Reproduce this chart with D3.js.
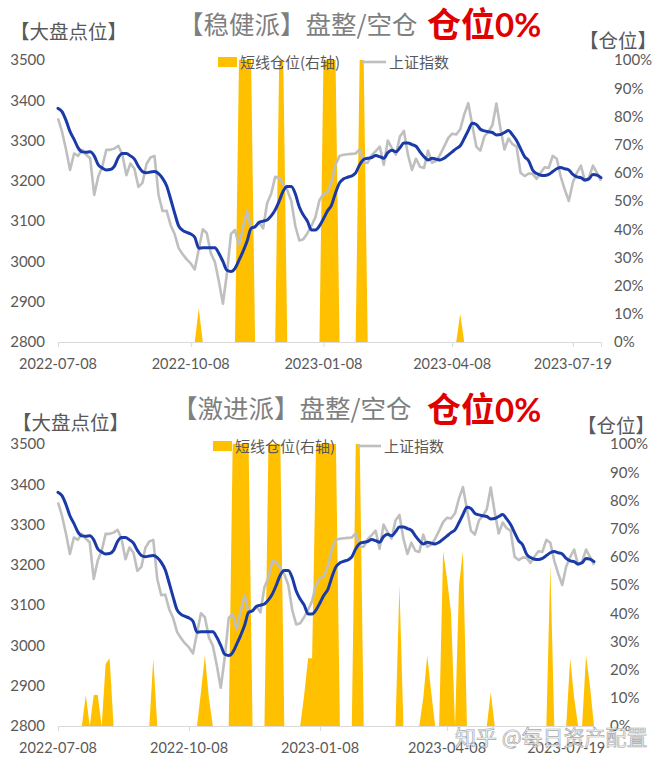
<!DOCTYPE html>
<html>
<head>
<meta charset="utf-8">
<script src="https://cdn.jsdelivr.net/npm/d3@7"></script>
<style>
  html, body { margin: 0; padding: 0; background: #ffffff; }
  svg { display: block; }
</style>
</head>
<body>
<svg id="chart" width="666" height="764"></svg>
<script>
// ---------------- DATA ----------------
const tickLabels = ["2022-07-08", "2022-10-08", "2023-01-08", "2023-04-08", "2023-07-19"];
const tickIndex = [0, 33, 66, 98, 128];
const leftTicks = [2800, 2900, 3000, 3100, 3200, 3300, 3400, 3500];
const rightTicks = [0, 10, 20, 30, 40, 50, 60, 70, 80, 90, 100];

// 上证指数 (gray)
const sseIndex = [
  3355,3322,3278,3227,3268,3262,3277,3265,3256,3165,
  3210,3235,3277,3277,3280,3287,3265,3214,3243,3230,
  3185,3195,3242,3258,3262,3165,3125,3126,3090,3068,
  3033,3018,3005,2995,2980,3030,3080,3070,3020,2999,
  2950,2895,2970,3068,3078,3040,3085,3125,3082,3086,
  3097,3082,3145,3168,3210,3207,3192,3177,3150,3088,
  3052,3055,3070,3088,3110,3152,3167,3172,3198,3240,
  3262,3265,3266,3267,3268,3278,3245,3245,3264,3274,
  3285,3240,3300,3281,3265,3310,3324,3265,3227,3255,
  3235,3232,3275,3245,3250,3265,3285,3306,3317,3315,
  3328,3365,3393,3338,3285,3275,3310,3322,3338,3392,
  3330,3278,3305,3291,3285,3220,3212,3218,3218,3205,
  3220,3234,3232,3262,3255,3210,3178,3150,3196,3220,
  3238,3200,3208,3238,3220,3200
];

// moving average (blue)
const maLine = [
  3380,3372,3350,3322,3303,3282,3272,3271,3272,3262,
  3240,3232,3227,3228,3236,3258,3268,3268,3262,3254,
  3236,3223,3220,3222,3223,3218,3206,3188,3155,3120,
  3088,3077,3072,3068,3060,3033,3034,3034,3034,3034,
  3020,3000,2978,2975,2983,3003,3025,3050,3082,3086,
  3097,3100,3103,3113,3128,3150,3175,3186,3186,3168,
  3135,3115,3100,3078,3078,3088,3106,3125,3140,3170,
  3195,3205,3209,3212,3220,3240,3253,3256,3258,3263,
  3260,3256,3270,3276,3272,3282,3294,3294,3290,3286,
  3272,3260,3252,3256,3254,3252,3256,3264,3272,3280,
  3287,3305,3325,3343,3340,3328,3324,3322,3320,3314,
  3315,3320,3325,3314,3300,3280,3260,3250,3227,3218,
  3214,3213,3216,3223,3230,3233,3230,3227,3216,3210,
  3208,3202,3205,3216,3214,3208
];

// 短线仓位 (%) - 稳健派
const posSteady = [
  0,0,0,0,0,0,0,0,0,0,
  0,0,0,0,0,0,0,0,0,0,
  0,0,0,0,0,0,0,0,0,0,
  0,0,0,0,0,12,0,0,0,0,
  0,0,0,0,0,100,100,100,100,0,
  0,0,0,0,0,100,100,0,0,0,
  0,0,0,0,0,0,100,100,100,100,
  0,0,0,0,0,100,100,0,0,0,
  0,0,0,0,0,0,0,0,0,0,
  0,0,0,0,0,0,0,0,0,0,
  10,0,0,0,0,0,0,0,0,0,
  0,0,0,0,0,0,0,0,0,0,
  0,0,0,0,0,0,0,0,0,0,
  0,0,0,0,0,0
];

// 短线仓位 (%) - 激进派
const posAggressive = [
  0,0,0,0,0,0,0,11,0,11,
  11,0,22,24,0,0,0,0,0,0,
  0,0,0,0,24,0,0,0,0,0,
  0,0,0,0,0,0,12,25,10,0,
  0,0,0,0,100,100,100,100,100,0,
  0,0,0,100,100,100,100,0,0,0,
  0,0,11,24,24,100,100,100,100,100,
  100,0,0,0,0,100,100,0,0,0,
  0,0,0,0,0,0,50,0,0,0,
  0,0,10,25,12,0,0,62,52,40,
  0,50,62,0,0,0,0,0,0,12,
  0,0,0,0,0,0,0,0,0,0,
  0,0,0,0,57,0,0,0,0,24,
  10,0,0,25,14,0
];

// ---------------- STYLE / LAYOUT ----------------
const CJK = "'Noto Sans CJK SC', 'Noto Sans', sans-serif";
const NUM = "Lato, 'Open Sans', sans-serif";
const GOLD = "#ffc000", GRAY = "#bfbfbf", BLUE = "#1a3aa8", TXT = "#595959";

const panels = [
  { title: "【稳健派】盘整/空仓", pos: posSteady,
    yTop: 60, yBot: 342, x0: 58, x1: 601,
    titleX: 178, titleBase: 34, redX: 427, redBase: 37,
    lblX: 10, lblBase: 38.5, rLblX: 579, rLblBase: 48,
    legX: 218, legY: 62, rTickX: 614 },
  { title: "【激进派】盘整/空仓", pos: posAggressive,
    yTop: 444, yBot: 726, x0: 58, x1: 594,
    titleX: 172, titleBase: 418, redX: 427, redBase: 422,
    lblX: 12, lblBase: 430, rLblX: 577, rLblBase: 433,
    legX: 213, legY: 446, rTickX: 610 }
];

const svg = d3.select("#chart");
svg.append("rect").attr("width", 666).attr("height", 764).attr("fill", "#fff");

panels.forEach(p => {
  const g = svg.append("g");
  const N = sseIndex.length;
  const x = d3.scaleLinear().domain([0, N - 1]).range([p.x0, p.x1]);
  const yL = d3.scaleLinear().domain([2800, 3500]).range([p.yBot, p.yTop]);
  const yR = d3.scaleLinear().domain([0, 100]).range([p.yBot, p.yTop]);

  // area (right axis)
  const area = d3.area().x((d, i) => x(i)).y0(yR(0)).y1(d => yR(d));
  g.append("path").datum(p.pos).attr("d", area).attr("fill", GOLD);

  // x axis
  const xAxis = d3.axisBottom(x).tickValues(tickIndex).tickSize(5).tickFormat("");
  const xg = g.append("g").attr("transform", `translate(0,${p.yBot})`).call(xAxis);
  xg.select(".domain").attr("stroke", "#d9d9d9").attr("stroke-width", 1);
  xg.selectAll(".tick line").attr("stroke", "#d9d9d9");
  g.selectAll(".xlab").data(tickIndex).enter().append("text")
    .attr("x", d => x(d)).attr("y", p.yBot + 26.5)
    .attr("text-anchor", "middle").attr("font-family", NUM).attr("font-size", 14.5)
    .attr("fill", TXT).text((d, i) => tickLabels[i]);

  // lines
  const lineL = d3.line().x((d, i) => x(i)).y(d => yL(d));
  g.append("path").datum(sseIndex).attr("d", lineL).attr("fill", "none")
    .attr("stroke", GRAY).attr("stroke-width", 2.6).attr("stroke-linejoin", "round");
  g.append("path").datum(maLine).attr("d", lineL.curve(d3.curveMonotoneX)).attr("fill", "none")
    .attr("stroke", BLUE).attr("stroke-width", 3).attr("stroke-linejoin", "round").attr("stroke-linecap", "round");

  // left axis
  const la = g.append("g").attr("transform", `translate(48,0)`)
    .call(d3.axisLeft(yL).tickValues(leftTicks).tickFormat(d3.format("d")).tickSize(0).tickPadding(3));
  la.select(".domain").remove();
  la.selectAll("text").attr("font-family", NUM).attr("font-size", 15).attr("fill", TXT);

  // right axis
  const ra = g.append("g").attr("transform", `translate(${p.rTickX},0)`)
    .call(d3.axisRight(yR).tickValues(rightTicks).tickFormat(d => d + "%").tickSize(0).tickPadding(0));
  ra.select(".domain").remove();
  ra.selectAll("text").attr("font-family", NUM).attr("font-size", 15).attr("fill", TXT);

  // titles
  g.append("text").attr("x", p.titleX).attr("y", p.titleBase)
    .attr("font-family", CJK).attr("font-size", 25.5).attr("fill", "#7f7f7f").text(p.title);
  const red = g.append("text").attr("x", p.redX).attr("y", p.redBase)
    .attr("fill", "#e00000").attr("font-weight", "bold");
  red.append("tspan").attr("font-family", CJK).attr("font-size", 34).text("仓位");
  red.append("tspan").attr("font-family", NUM).attr("font-size", 33).text("0%");

  g.append("text").attr("x", p.lblX).attr("y", p.lblBase)
    .attr("font-family", CJK).attr("font-size", 19.5).attr("fill", TXT).text("【大盘点位】");
  g.append("text").attr("x", p.rLblX).attr("y", p.rLblBase)
    .attr("font-family", CJK).attr("font-size", 19.5).attr("fill", TXT).text("【仓位】");

  // legend
  const lg = g.append("g").attr("transform", `translate(${p.legX},${p.legY})`);
  lg.append("rect").attr("x", 0).attr("y", -5).attr("width", 19).attr("height", 10).attr("fill", GOLD);
  lg.append("text").attr("x", 22).attr("y", 5.5).attr("font-family", CJK).attr("font-size", 15)
    .attr("fill", TXT).text("短线仓位(右轴)");
  lg.append("line").attr("x1", 144).attr("x2", 168).attr("y1", 0).attr("y2", 0)
    .attr("stroke", GRAY).attr("stroke-width", 2.6);
  lg.append("text").attr("x", 171).attr("y", 5.5).attr("font-family", CJK).attr("font-size", 15)
    .attr("fill", TXT).text("上证指数");
});

// watermark
svg.append("text").attr("x", 455).attr("y", 745)
  .attr("font-family", CJK).attr("font-size", 21)
  .attr("fill", "rgba(255,255,255,0.75)").attr("stroke", "#a8a8a8").attr("stroke-width", 0.7)
  .text("知乎 @每日资产配置");
</script>
</body>
</html>
